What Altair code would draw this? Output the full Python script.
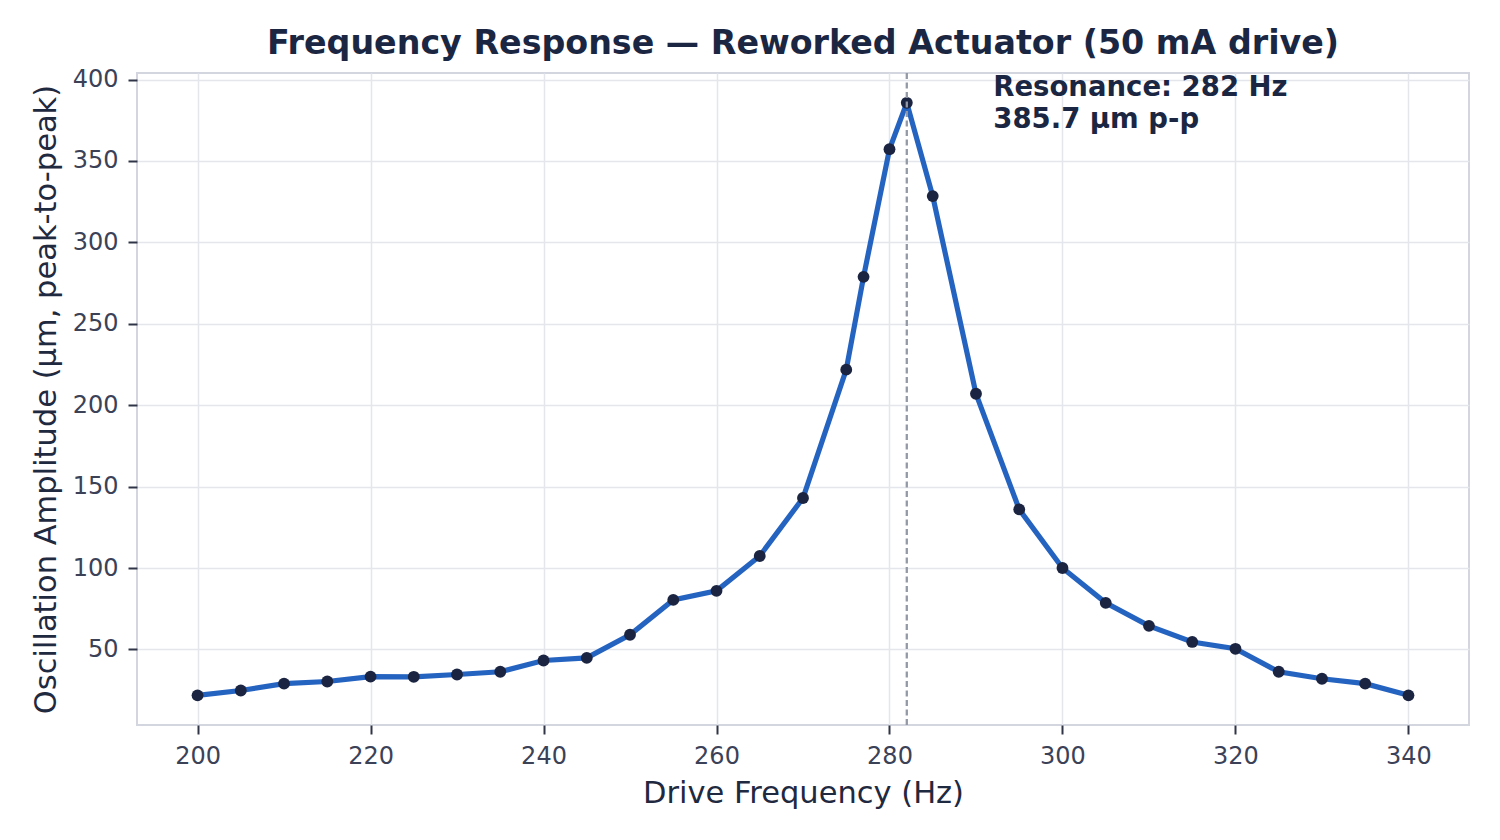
import altair as alt
import pandas as pd

freq_hz = [200, 205, 210, 215, 220, 225, 230, 235, 240, 245, 250, 255, 260, 265,
           270, 275, 277, 280, 282, 285, 290, 295, 300, 305, 310, 315, 320, 325,
           330, 335, 340]
amp_um = [21.8, 24.8, 29.0, 30.3, 33.3, 33.2, 34.6, 36.3, 43.2, 44.8, 59.0, 80.4,
          86.0, 107.4, 143.0, 221.8, 278.8, 357.2, 385.7, 328.4, 207.0, 136.0,
          100.0, 78.6, 64.5, 54.6, 50.4, 36.3, 32.0, 29.0, 21.8]

peak_freq = 282
peak_amp = 385.7
annot_lines = [f"Resonance: {peak_freq} Hz", f"{peak_amp} µm p-p"]

x_ticks = [200, 220, 240, 260, 280, 300, 320, 340]
y_ticks = [50, 100, 150, 200, 250, 300, 350, 400]

df = pd.DataFrame({"f": freq_hz, "a": amp_um})
peak_df = pd.DataFrame({"f": [peak_freq], "a": [peak_amp]})
annot_df = pd.DataFrame({"f": [peak_freq + 10], "a": [peak_amp]})

FONT = "DejaVu Sans"
x_scale = alt.Scale(domain=[193, 347], nice=False, zero=False)
y_scale = alt.Scale(domain=[3.6, 404.0], nice=False, zero=False)

x_enc = alt.X("f:Q", scale=x_scale,
              axis=alt.Axis(values=x_ticks, title="Drive Frequency (Hz)", format="d"))
y_enc = alt.Y("a:Q", scale=y_scale,
              axis=alt.Axis(values=y_ticks, title="Oscillation Amplitude (µm, peak-to-peak)", format="d"))

line = alt.Chart(df).mark_line(color="#2563c0", strokeWidth=5.2).encode(x=x_enc, y=y_enc)
points = alt.Chart(df).mark_circle(color="#1b2440", opacity=1, size=140).encode(x="f:Q", y="a:Q")

vline = alt.Chart(peak_df).mark_rule(color="#939aa6", opacity=1, strokeWidth=2.3,
                                     strokeDash=[6, 3.5]).encode(x="f:Q")

annot = alt.Chart(annot_df).mark_text(
    text=annot_lines, align="left", baseline="middle", font=FONT, fontSize=27.5,
    fontWeight="bold", color="#1b2742", lineHeight=32, dy=-15
).encode(x="f:Q", y="a:Q")

chart = alt.layer(line, points, vline, annot).properties(
    width=1332, height=652,
    title=alt.TitleParams("Frequency Response — Reworked Actuator (50 mA drive)",
                          font=FONT, fontSize=33.3, fontWeight="bold", color="#1b2742",
                          anchor="middle", offset=6),
    autosize=alt.AutoSizeParams(type="none"),
    padding={"left": 129, "top": 65, "right": 15, "bottom": 100},
).configure_view(
    stroke="#d3d6de", strokeWidth=2
).configure_axis(
    labelFont=FONT, titleFont=FONT, labelFontSize=24, titleFontSize=30.5,
    labelColor="#3b4257", titleColor="#1f2940", titleFontWeight="normal",
    gridColor="#e4e6eb", gridWidth=1.5, domain=False,
    tickColor="#2f3547", tickSize=9, tickWidth=2, labelPadding=10,
).configure_axisX(titlePadding=10).configure_axisY(titlePadding=11)

chart.save("out.html", embed_options={"renderer": "svg", "actions": False})
